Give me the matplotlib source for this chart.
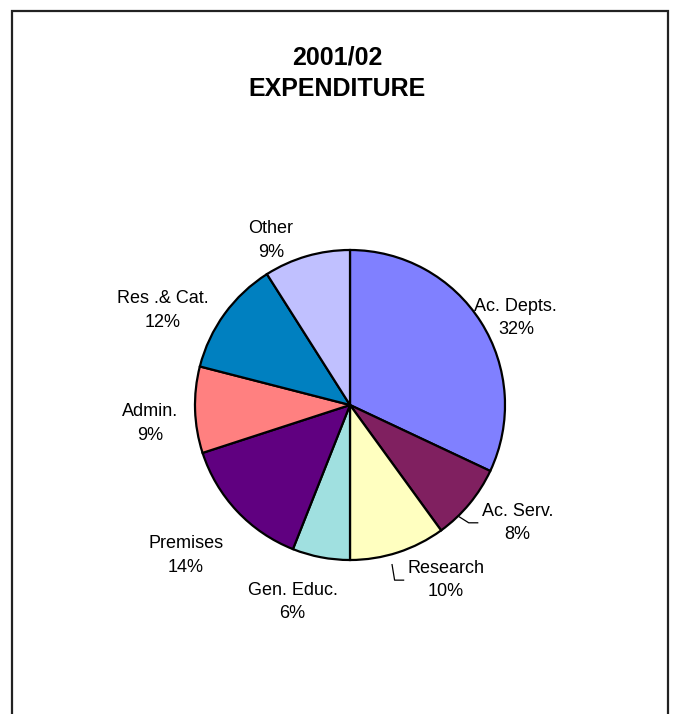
import numpy as np
import matplotlib
matplotlib.use("Agg")
import matplotlib.pyplot as plt
from matplotlib.patches import Rectangle

plt.rcParams['font.family'] = ['Liberation Sans', 'DejaVu Sans']

# 2001/02 expenditure shares, clockwise from 12 o'clock
labels = ['Ac. Depts.', 'Ac. Serv.', 'Research', 'Gen. Educ.',
          'Premises', 'Admin.', 'Res .& Cat.', 'Other']
shares = [32, 8, 10, 6, 14, 9, 12, 9]
colors = ['#8080FF', '#802060', '#FFFFC0', '#A0E0E0',
          '#600080', '#FF8080', '#0080C0', '#C0C0FF']

# where each label sits (pie radius units)
label_xy = [(1.07, 0.56), (1.08, -0.76), (0.62, -1.13), (-0.37, -1.27),
            (-1.06, -0.97), (-1.29, -0.12), (-1.21, 0.61), (-0.51, 1.06)]
# leader lines: (fraction from theta1 along the wedge, radius)
leader = {1: (0.29, 1.01), 2: (0.41, 1.065)}

W, H = 675, 714
fig = plt.figure(figsize=(W / 100, H / 100), dpi=100)
ax = fig.add_axes([0, 0, 1, 1])

wedges, _ = ax.pie(shares, colors=colors, startangle=90, counterclock=False,
                   wedgeprops=dict(edgecolor='black', linewidth=1.6))

# pie centre at (350, 405) px, radius 155 px
cx, cy, rpx = 350, 405, 155
ax.set_xlim(-cx / rpx, (W - cx) / rpx)
ax.set_ylim((cy - H) / rpx, cy / rpx)
ax.set_aspect('auto')
ax.axis('off')

texts = []
for i, (lab, s) in enumerate(zip(labels, shares)):
    x, y = label_xy[i]
    t = ax.text(x, y, f'{lab}\n{s}%', ha='center', va='center',
                fontsize=13, linespacing=1.5)
    texts.append(t)

fig.canvas.draw()
inv = ax.transData.inverted()
for i, (frac, r) in leader.items():
    w = wedges[i]
    t1, t2 = sorted([w.theta1, w.theta2])
    ang = np.deg2rad(t1 + frac * (t2 - t1))
    x0, y0 = r * np.cos(ang), r * np.sin(ang)
    bb = texts[i].get_window_extent()
    xe = inv.transform((bb.x0 - 4, 0))[0]
    ye = label_xy[i][1]
    ax.plot([x0, xe - 9 / rpx, xe], [y0, ye, ye], color='black', lw=0.9)

fig.text(0.5, 0.898, '2001/02\nEXPENDITURE', ha='center', va='center',
         fontsize=18, fontweight='bold', linespacing=1.4)

fig.patches.append(Rectangle((12 / W, -0.02), (668 - 12) / W, 1.02 - 11 / H,
                             transform=fig.transFigure, fill=False,
                             edgecolor='#222222', linewidth=1.6))

fig.savefig('out.png', dpi=100, facecolor='white')
